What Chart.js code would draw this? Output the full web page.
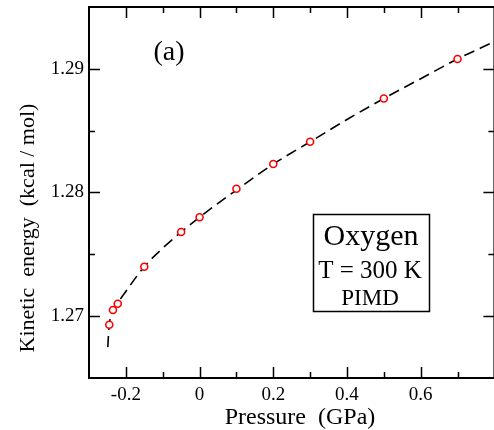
<!DOCTYPE html>
<html lang="en">
<head>
<meta charset="UTF-8">
<title>Kinetic energy vs pressure</title>
<script src="https://cdn.jsdelivr.net/npm/chart.js"></script>
<style>
  html, body { margin: 0; padding: 0; background: #fff; overflow: hidden; }
  #wrap { width: 500px; height: 430px; }
</style>
</head>
<body>
<div id="wrap"><canvas id="keChart" width="500" height="430"></canvas></div>
<script>
// simulation points (red circles)
const pressure = [-0.245, -0.235, -0.222, -0.15, -0.05, 0, 0.1, 0.2, 0.3, 0.5, 0.7];
const kinetic  = [1.2693, 1.2705, 1.2710, 1.2740, 1.2768, 1.2780, 1.2803, 1.2823, 1.2841, 1.2876, 1.2908];

// dashed fit curve
const fitP = [-0.249, -0.246, -0.24, -0.23, -0.2, -0.15, -0.1, -0.05, 0, 0.1, 0.2, 0.3, 0.4, 0.5, 0.6, 0.7, 0.8];
const fitE = [1.2675, 1.2690, 1.2701, 1.2707, 1.2720, 1.2740, 1.2755, 1.2768, 1.2780, 1.2802, 1.2823, 1.2841, 1.2859, 1.2876, 1.2892, 1.2908, 1.2922];

// axes
const xMajor = [-0.2, 0, 0.2, 0.4, 0.6];
const xMinor = [-0.1, 0.1, 0.3, 0.5, 0.7];
const xLabels = ['-0.2', '0', '0.2', '0.4', '0.6'];
const yMajor = [1.27, 1.28, 1.29];
const yMinor = [1.275, 1.285];
const yLabels = ['1.27', '1.28', '1.29'];

const serif = "'Liberation Serif', 'Times New Roman', serif";

// frame with inward ticks on all four sides, plus the text labels
const framePlugin = {
  id: 'frame',
  afterDraw(chart) {
    const ctx = chart.ctx;
    const a = chart.chartArea;
    const xs = chart.scales.x, ys = chart.scales.y;
    ctx.save();
    ctx.strokeStyle = '#000';
    ctx.lineWidth = 2;
    ctx.strokeRect(a.left, a.top, a.right - a.left, a.bottom - a.top);

    ctx.lineWidth = 1.5;
    ctx.beginPath();
    const xt = (vals, len) => vals.forEach(v => {
      const px = Math.round(xs.getPixelForValue(v)) + 0.5;
      ctx.moveTo(px, a.bottom); ctx.lineTo(px, a.bottom - len);
      ctx.moveTo(px, a.top); ctx.lineTo(px, a.top + len);
    });
    const yt = (vals, len) => vals.forEach(v => {
      const py = Math.round(ys.getPixelForValue(v)) + 0.5;
      ctx.moveTo(a.left, py); ctx.lineTo(a.left + len, py);
      ctx.moveTo(a.right, py); ctx.lineTo(a.right - len, py);
    });
    xt(xMajor, 11); xt(xMinor, 6);
    yt(yMajor, 11); yt(yMinor, 6);
    ctx.stroke();

    ctx.fillStyle = '#000';
    ctx.textAlign = 'center';
    ctx.textBaseline = 'alphabetic';

    // axis titles
    ctx.font = '24px ' + serif;
    ctx.fillText('Pressure  (GPa)', 300, 424);
    ctx.font = '22px ' + serif;
    ctx.save();
    ctx.translate(34, 228);
    ctx.rotate(-Math.PI / 2);
    ctx.fillText('Kinetic  energy  (kcal / mol)', 0, 0);
    ctx.restore();

    // panel label
    ctx.font = '28px ' + serif;
    ctx.fillText('(a)', 169, 60);

    // legend box
    ctx.lineWidth = 1.5;
    ctx.strokeRect(313.5, 214.5, 116, 97);
    ctx.font = '30px ' + serif;
    ctx.fillText('Oxygen', 371, 245);
    ctx.font = '25px ' + serif;
    ctx.fillText('T = 300 K', 370, 278);
    ctx.font = '23px ' + serif;
    ctx.fillText('PIMD', 370, 305);
    ctx.restore();
  }
};

new Chart(document.getElementById('keChart'), {
  type: 'scatter',
  data: {
    datasets: [
      {
        label: 'fit',
        data: fitP.map((p, i) => ({ x: p, y: fitE[i] })),
        showLine: true,
        borderColor: '#000',
        borderWidth: 1.6,
        borderDash: [11, 6],
        pointRadius: 0,
        cubicInterpolationMode: 'monotone',
        order: 2
      },
      {
        label: 'PIMD',
        data: pressure.map((p, i) => ({ x: p, y: kinetic[i] })),
        showLine: false,
        pointRadius: 3.5,
        pointBorderWidth: 1.6,
        pointBorderColor: '#ff0000',
        pointBackgroundColor: '#fff',
        order: 1
      }
    ]
  },
  options: {
    responsive: false,
    animation: false,
    devicePixelRatio: 1,
    layout: { padding: { left: 0, top: 7, right: 4, bottom: 0 } },
    plugins: { legend: { display: false }, tooltip: { enabled: false } },
    scales: {
      x: {
        type: 'linear',
        min: -0.3,
        max: 0.8,
        grid: { display: false, drawTicks: false },
        border: { display: false },
        afterBuildTicks: s => { s.ticks = xMajor.map(v => ({ value: v })); },
        afterFit: s => { s.height = 52; s.paddingLeft = 0; s.paddingRight = 0; },
        ticks: {
          padding: 6,
          color: '#000',
          maxRotation: 0,
          font: { family: serif, size: 19 },
          callback: (v) => xLabels[xMajor.findIndex(t => Math.abs(t - v) < 1e-9)]
        }
      },
      y: {
        type: 'linear',
        min: 1.265,
        max: 1.295,
        grid: { display: false, drawTicks: false },
        border: { display: false },
        afterBuildTicks: s => { s.ticks = yMajor.map(v => ({ value: v })); },
        afterFit: s => { s.width = 89; s.paddingTop = 0; s.paddingBottom = 0; },
        ticks: {
          padding: 5,
          color: '#000',
          font: { family: serif, size: 19 },
          callback: (v) => yLabels[yMajor.findIndex(t => Math.abs(t - v) < 1e-9)]
        }
      }
    }
  },
  plugins: [framePlugin]
});
</script>
</body>
</html>
